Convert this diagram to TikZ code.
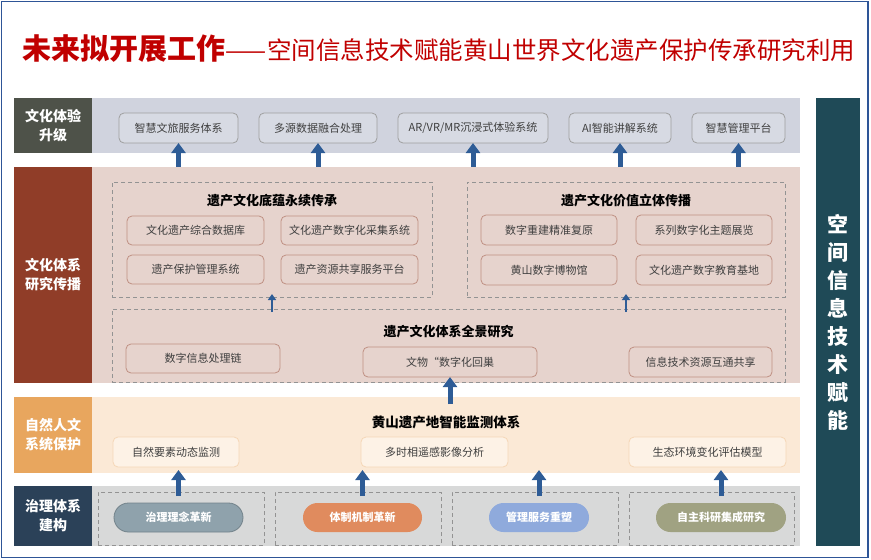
\documentclass[tikz,border=0pt]{standalone}
\usepackage{fontspec}
\setmainfont{Noto Sans CJK SC}
\usepackage{tikz}
\usetikzlibrary{arrows.meta,positioning}
\definecolor{frameblue}{HTML}{2E5597}
\definecolor{titlered}{HTML}{C00000}
\definecolor{arrowblue}{HTML}{2E5C96}
\definecolor{labgray}{HTML}{4E5249}
\definecolor{bandgray}{HTML}{D0D3DE}
\definecolor{labred}{HTML}{903D28}
\definecolor{bandrose}{HTML}{E6D3CD}
\definecolor{laborange}{HTML}{E8A65E}
\definecolor{bandpeach}{HTML}{FBE9D6}
\definecolor{labnavy}{HTML}{2B4158}
\definecolor{bandsilver}{HTML}{D8D9D9}
\definecolor{techteal}{HTML}{1F4A57}
\definecolor{textgray}{HTML}{3F3F3F}
\definecolor{pillslate}{HTML}{8FA2AC}
\definecolor{pillorange}{HTML}{E08B5E}
\definecolor{pillblue}{HTML}{8FAADC}
\definecolor{pillolive}{HTML}{A0A282}

\begin{document}
\begin{tikzpicture}[
x=1pt, y=-1pt,
node distance=21pt,
every node/.style={inner sep=0pt, outer sep=0pt},
lab/.style={minimum width=78pt, text=white, align=center, font=\fontsize{14}{19}\selectfont\bfseries},
band/.style={minimum width=708pt},
tile/.style={rounded corners=5pt, line width=0.8pt, minimum height=30pt, text=textgray, font=\fontsize{11}{13}\selectfont},
tilegray/.style={tile, draw=gray!75, fill=bandgray!85!white},
tilerose/.style={tile, draw=labred!45!bandrose, fill=bandrose, minimum height=29pt},
tilepeach/.style={tile, draw=laborange!45!white, fill=bandpeach!60!white},
group/.style={draw=gray!85, dash pattern=on 4pt off 3pt, line width=0.9pt},
heading/.style={text=black, font=\fontsize{13}{15}\selectfont\bfseries},
pill/.style={rounded corners=14.5pt, minimum height=29pt, line width=0.8pt, text=white, font=\fontsize{11}{13}\selectfont\bfseries},
bigarrow/.style={arrowblue, line width=5pt, -{Triangle[length=10pt, width=14pt]}},
smallarrow/.style={arrowblue, line width=2.5pt, -{Triangle[length=6pt, width=8pt]}}
]
\useasboundingbox (0,0) rectangle (871,560);
\draw[frameblue, line width=1.5pt] (1.5,1.5) rectangle (868,557.5);

\node[text=titlered] (title) at (439,49) {{\fontsize{29}{30}\selectfont\bfseries 未来拟开展工作}{\fontsize{24.5}{30}\selectfont ——空间信息技术赋能黄山世界文化遗产保护传承研究利用}};

\node[lab, fill=labgray, minimum height=55pt, anchor=north west] (exp) at (14,98) {文化体验\\升级};
\node[band, fill=bandgray, minimum height=55pt, right=0pt of exp] (expband) {};
\node[lab, fill=labred, minimum height=216pt, below=13.5pt of exp] (res) {文化体系\\研究传播};
\node[band, fill=bandrose, minimum height=216pt, right=0pt of res] (resband) {};
\node[lab, fill=laborange, minimum height=76pt, below=14.5pt of res] (nat) {自然人文\\系统保护};
\node[band, fill=bandpeach, minimum height=76pt, right=0pt of nat] (natband) {};
\node[lab, fill=labnavy, minimum height=60pt, below=13pt of nat] (gov) {治理体系\\建构};
\node[band, fill=bandsilver, minimum height=60pt, right=0pt of gov] (govband) {};
\node[fill=techteal, minimum width=44pt, minimum height=448pt, anchor=north west, text=white, align=center, font=\fontsize{21}{28}\selectfont\bfseries] (tech) at (816,98) {空\\间\\信\\息\\技\\术\\赋\\能};

\node[tilegray, minimum width=119pt, anchor=north west] (tour) at (119,113) {智慧文旅服务体系};
\node[tilegray, minimum width=118pt, right=of tour] (fusion) {多源数据融合处理};
\node[tilegray, minimum width=150pt, right=of fusion] (immerse) {AR/VR/MR沉浸式体验系统};
\node[tilegray, minimum width=102pt, right=of immerse] (guide) {AI智能讲解系统};
\node[tilegray, minimum width=93pt, right=of guide] (manage) {智慧管理平台};

\node[group, minimum width=320pt, minimum height=115pt, anchor=north west] (herit) at (112,182) {};
\node[heading] (herittitle) at ([yshift=-19pt]herit.north) {遗产文化底蕴永续传承};
\node[tilerose, minimum width=137pt, anchor=north west] (database) at (127,216) {文化遗产综合数据库};
\node[tilerose, minimum width=137pt, right=17pt of database] (capture) {文化遗产数字化采集系统};
\node[tilerose, minimum width=137pt, below=10pt of database] (protect) {遗产保护管理系统};
\node[tilerose, minimum width=137pt, right=17pt of protect] (share) {遗产资源共享服务平台};

\node[group, minimum width=318pt, minimum height=115pt, anchor=north west] (spread) at (467,182) {};
\node[heading] (spreadtitle) at ([yshift=-19pt]spread.north) {遗产文化价值立体传播};
\node[tilerose, minimum width=136pt, minimum height=30pt, anchor=north west] (rebuild) at (481,215) {数字重建精准复原};
\node[tilerose, minimum width=136pt, minimum height=30pt, right=19pt of rebuild] (exhibit) {系列数字化主题展览};
\node[tilerose, minimum width=136pt, minimum height=30pt, below=10pt of rebuild] (museum) {黄山数字博物馆};
\node[tilerose, minimum width=136pt, minimum height=30pt, right=19pt of museum] (school) {文化遗产数字教育基地};

\node[group, minimum width=673pt, minimum height=73pt, anchor=north west] (story) at (112,309) {};
\node[heading] (storytitle) at ([yshift=-23pt]story.north) {遗产文化体系全景研究};
\node[tilerose, minimum width=154pt, anchor=north west] (chain) at (126,344) {数字信息处理链};
\node[tilerose, minimum width=174pt, minimum height=30pt, anchor=north west] (relic) at (363,347) {文物“数字化回巢};
\node[tilerose, minimum width=143pt, minimum height=30pt, anchor=north west] (link) at (629,347) {信息技术资源互通共享};

\node[heading, font=\fontsize{13.5}{15}\selectfont\bfseries] (monitor) at ([yshift=-25pt]natband.north) {黄山遗产地智能监测体系};
\node[tilepeach, minimum width=126pt, anchor=north west] (element) at (113,437) {自然要素动态监测};
\node[tilepeach, minimum width=147pt, anchor=north west] (remote) at (361,437) {多时相遥感影像分析};
\node[tilepeach, minimum width=157pt, anchor=north west] (ecology) at (629,437) {生态环境变化评估模型};

\node[group, minimum width=166pt, minimum height=53pt, anchor=north west] (frame1) at (98,492) {};
\node[group, minimum width=166pt, minimum height=53pt, right=11pt of frame1] (frame2) {};
\node[group, minimum width=166pt, minimum height=53pt, right=11pt of frame2] (frame3) {};
\node[group, minimum width=165pt, minimum height=53pt, right=11pt of frame3] (frame4) {};
\node[pill, draw=pillslate!80!black, fill=pillslate, minimum width=129pt] (idea) at (178.5,517.5) {治理理念革新};
\node[pill, fill=pillorange, minimum width=119pt] (system) at (362.5,517.5) {体制机制革新};
\node[pill, fill=pillblue, minimum width=100pt] (service) at (539,517.5) {管理服务重塑};
\node[pill, fill=pillolive, minimum width=130pt] (science) at (721,517.5) {自主科研集成研究};

\foreach \n in {tour,fusion,immerse,guide,manage}
  \draw[bigarrow] (\n.south |- resband.north) -- (\n.south);
\draw[smallarrow] ([yshift=-3pt]story.north -| herit.south) -- ([yshift=3pt]herit.south);
\draw[smallarrow] ([yshift=-3pt]story.north -| spread.south) -- ([yshift=3pt]spread.south);
\draw[bigarrow] ([yshift=-7pt]natband.north -| relic.south) -- (relic.south);
\foreach \n in {idea,system,service,science}
  \draw[bigarrow] ([yshift=7pt]\n.north) -- ([yshift=3pt]\n.north |- natband.south);
\end{tikzpicture}
\end{document}
